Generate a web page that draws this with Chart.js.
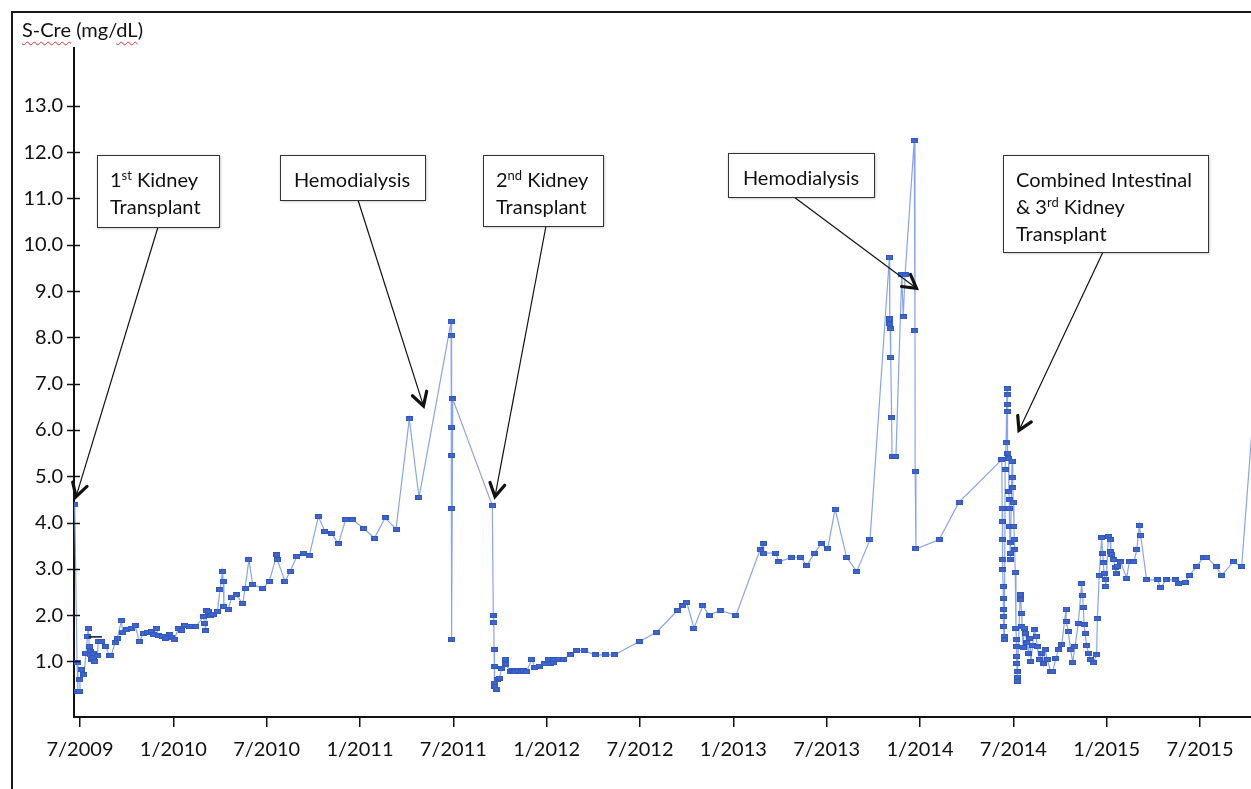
<!DOCTYPE html>
<html><head><meta charset="utf-8">
<script src="https://cdn.jsdelivr.net/npm/chart.js@4.4.0/dist/chart.umd.min.js"></script>
<style>
html,body{margin:0;padding:0;background:#fff;width:1251px;height:789px;overflow:hidden;}
#frame{position:absolute;left:11px;top:11px;width:1300px;height:800px;border-left:2px solid #1a1a1a;border-top:2px solid #1a1a1a;}
#ytitle{position:absolute;left:22px;top:17px;font:20px Lato, sans-serif;color:#111;white-space:nowrap;}
.sp{text-decoration:underline wavy #e0302a;text-decoration-thickness:1px;text-underline-offset:4px;}
canvas{position:absolute;left:0;top:0;}
</style></head><body>
<div id="frame"></div>
<canvas id="c" width="1251" height="789"></canvas>
<div id="ytitle"><span class="sp">S-Cre</span> (mg/<span class="sp">dL</span>)</div>
<script>
// ---- data (decimal year of sample, serum creatinine mg/dL) ----
const sampleYear = [
2009.472,2009.484,2009.489,2009.497,2009.500,2009.509,2009.521,2009.532,2009.540,2009.544,
2009.550,2009.554,2009.557,2009.563,2009.570,2009.572,2009.580,2009.593,2009.598,2009.616,
2009.639,2009.657,2009.666,2009.688,2009.700,2009.722,2009.729,2009.750,2009.777,2009.795,
2009.818,2009.839,2009.861,2009.884,2009.893,2009.911,2009.919,2009.941,2009.959,2009.982,
2009.991,2010.004,2010.027,2010.045,2010.062,2010.086,2010.121,2010.161,2010.168,2010.173,
2010.178,2010.187,2010.200,2010.214,2010.236,2010.250,2010.264,2010.267,2010.271,2010.294,
2010.313,2010.336,2010.372,2010.384,2010.405,2010.425,2010.479,2010.514,2010.554,2010.557,
2010.598,2010.625,2010.661,2010.696,2010.728,2010.777,2010.812,2010.848,2010.884,2010.923,
2010.961,2011.021,2011.077,2011.134,2011.193,2011.264,2011.316,2011.488,2011.489,2011.490,
2011.491,2011.491,2011.492,2011.497,2011.709,2011.714,2011.717,2011.718,2011.719,2011.720,
2011.723,2011.732,2011.734,2011.746,2011.759,2011.777,2011.782,2011.804,2011.818,2011.830,
2011.848,2011.866,2011.875,2011.893,2011.920,2011.937,2011.961,2011.986,2012.009,2012.018,
2012.036,2012.038,2012.062,2012.089,2012.125,2012.161,2012.200,2012.259,2012.316,2012.362,
2012.496,2012.589,2012.700,2012.729,2012.750,2012.789,2012.836,2012.871,2012.929,2013.014,
2013.143,2013.160,2013.162,2013.228,2013.243,2013.313,2013.361,2013.393,2013.434,2013.470,
2013.505,2013.545,2013.607,2013.661,2013.732,2013.836,2013.837,2013.839,2013.840,2013.843,
2013.848,2013.850,2013.871,2013.902,2013.910,2013.920,2013.969,2013.973,2013.974,2013.978,
2014.102,2014.209,2014.438,2014.440,2014.441,2014.442,2014.443,2014.444,2014.445,2014.446,
2014.447,2014.448,2014.449,2014.450,2014.452,2014.456,2014.461,2014.466,2014.467,2014.468,
2014.469,2014.471,2014.474,2014.476,2014.478,2014.479,2014.480,2014.482,2014.483,2014.484,
2014.493,2014.496,2014.498,2014.500,2014.503,2014.505,2014.507,2014.510,2014.514,2014.516,
2014.517,2014.518,2014.519,2014.520,2014.521,2014.522,2014.536,2014.539,2014.545,2014.546,
2014.552,2014.558,2014.564,2014.573,2014.580,2014.587,2014.594,2014.603,2014.611,2014.622,
2014.628,2014.639,2014.652,2014.660,2014.670,2014.682,2014.700,2014.711,2014.728,2014.741,
2014.759,2014.782,2014.783,2014.794,2014.807,2014.818,2014.830,2014.848,2014.866,2014.871,
2014.875,2014.879,2014.884,2014.893,2014.902,2014.914,2014.928,2014.946,2014.950,2014.960,
2014.973,2014.979,2014.982,2014.986,2014.991,2014.996,2015.009,2015.018,2015.022,2015.027,
2015.036,2015.045,2015.050,2015.057,2015.075,2015.107,2015.121,2015.146,2015.161,2015.175,
2015.182,2015.214,2015.271,2015.289,2015.318,2015.366,2015.384,2015.420,2015.443,2015.482,
2015.518,2015.536,2015.586,2015.616,2015.678,2015.723,2015.810
];
const sCre = [
4.38,0.97,0.35,0.36,0.60,0.82,0.71,1.18,1.54,1.72,
1.32,1.22,1.14,1.04,1.08,1.17,1.00,1.12,1.43,1.43,
1.32,1.12,1.12,1.40,1.50,1.88,1.63,1.68,1.72,1.78,
1.43,1.60,1.63,1.65,1.58,1.71,1.56,1.54,1.50,1.58,
1.52,1.47,1.71,1.67,1.78,1.76,1.76,1.96,1.83,1.66,
2.10,2.08,1.99,2.02,2.08,2.55,2.94,2.73,2.19,2.12,
2.39,2.44,2.25,2.57,3.20,2.66,2.58,2.73,3.30,3.20,
2.73,2.94,3.27,3.34,3.28,4.13,3.81,3.77,3.54,4.06,
4.06,3.87,3.66,4.10,3.86,6.24,4.54,8.34,8.03,6.06,
5.45,4.30,1.48,6.67,4.36,1.99,1.84,1.25,0.89,0.53,
0.46,0.40,0.60,0.64,0.84,1.05,0.94,0.78,0.80,0.78,
0.80,0.78,0.80,0.78,1.05,0.86,0.90,0.95,1.04,0.95,
0.97,1.04,1.05,1.05,1.14,1.24,1.24,1.14,1.14,1.14,
1.43,1.63,2.10,2.20,2.28,1.72,2.20,2.00,2.10,2.00,
3.41,3.54,3.34,3.34,3.15,3.25,3.25,3.07,3.34,3.54,
3.43,4.29,3.25,2.94,3.63,9.73,8.40,8.29,8.19,7.57,
6.26,5.43,5.43,9.35,8.44,9.35,12.25,8.14,5.10,3.43,
3.63,4.44,5.36,4.31,4.02,3.63,3.20,2.98,2.62,2.37,
2.12,1.97,1.76,1.54,1.47,5.14,5.72,6.90,6.76,6.55,
6.40,5.50,5.39,4.67,4.49,4.31,3.92,3.56,3.34,3.20,
5.32,4.97,4.75,4.43,3.92,3.63,3.41,2.92,1.72,1.47,
1.32,1.11,0.96,0.78,0.66,0.57,2.44,2.33,2.04,1.76,
1.30,1.72,1.61,1.40,1.18,1.50,1.00,1.35,1.68,1.54,
1.32,1.04,1.18,0.95,1.25,1.04,0.78,0.78,1.07,1.25,
1.36,2.13,1.86,1.65,1.25,0.98,1.32,1.83,2.68,2.42,
2.17,1.79,1.61,1.34,1.18,1.04,0.97,1.14,1.92,2.85,
3.67,3.34,3.13,2.91,2.76,2.62,3.70,3.63,3.38,3.31,
3.20,3.02,2.91,3.05,3.15,2.80,3.15,3.15,3.41,3.94,
3.72,2.76,2.76,2.59,2.76,2.76,2.68,2.71,2.86,3.05,
3.25,3.25,3.05,2.86,3.15,3.05,7.70
];
const xTickYears = [2009.5,2010,2010.5,2011,2011.5,2012,2012.5,2013,2013.5,2014,2014.5,2015,2015.5];
const yTickValues = [1,2,3,4,5,6,7,8,9,10,11,12,13];
// short black reference dash seen near the start (from year, to year, value)
const dashYears = [2009.547, 2009.617];
const dashValue = 1.53;
// annotations: text (lines, ^..^ = superscript) and where each arrow points (year, value)
const noteText = [
  ['1^st^ Kidney','Transplant'],
  ['Hemodialysis'],
  ['2^nd^ Kidney','Transplant'],
  ['Hemodialysis'],
  ['Combined Intestinal','& 3^rd^ Kidney','Transplant']
];
const noteTipYear  = [2009.479, 2011.340, 2011.723, 2013.981, 2014.530];
const noteTipValue = [4.56, 6.52, 4.56, 9.06, 5.99];

// ---- layout / style ----
const noteLayout = [
  {box:[97,155,122,72],  align:'left',   tx:110,  base:187, from:[158,227]},
  {box:[280,155,145,45], align:'center', tx:352,  base:187, from:[358,200]},
  {box:[483,155,120,71], align:'left',   tx:496,  base:187, from:[546,226]},
  {box:[728,153,146,44], align:'center', tx:801,  base:185, from:[794,197]},
  {box:[1003,155,205,97],align:'left',   tx:1016, base:187, from:[1103,252]}
];
const FONT = '20px Lato, sans-serif';
const SUPFONT = '13px Lato, sans-serif';

const marker = document.createElement('canvas');
marker.width = 7; marker.height = 5;
(function(){const g = marker.getContext('2d');
  g.fillStyle = '#3f66cc'; g.fillRect(0,0,7,5);
  g.strokeStyle = '#3358bd'; g.lineWidth = 1; g.strokeRect(0.5,0.5,6,4);})();

function richText(ctx, str, x, y, align){
  const parts = str.split('^');
  let w = 0;
  parts.forEach((p,i)=>{ctx.font = i%2 ? SUPFONT : FONT; w += ctx.measureText(p).width;});
  let cx = align === 'center' ? x - w/2 : x;
  ctx.textAlign = 'left';
  parts.forEach((p,i)=>{ctx.font = i%2 ? SUPFONT : FONT;
    ctx.fillText(p, cx, i%2 ? y - 7 : y); cx += ctx.measureText(p).width;});
}

const overlay = {
  id:'overlay',
  afterDraw(chart){
    const ctx = chart.ctx, xs = chart.scales.x, ys = chart.scales.y;
    const L = chart.chartArea.left;
    ctx.save();
    // y tick marks crossing the axis
    ctx.strokeStyle = '#111'; ctx.lineWidth = 1.5;
    yTickValues.forEach(v=>{
      const py = Math.round(ys.getPixelForValue(v)) + 0.5;
      ctx.beginPath(); ctx.moveTo(L-7, py); ctx.lineTo(L+6, py); ctx.stroke();
    });
    // small black dash
    ctx.lineWidth = 1.5;
    const dy = ys.getPixelForValue(dashValue);
    ctx.beginPath(); ctx.moveTo(xs.getPixelForValue(dashYears[0]), dy);
    ctx.lineTo(xs.getPixelForValue(dashYears[1]), dy); ctx.stroke();
    // annotation boxes + arrows
    noteText.forEach((lines,i)=>{
      const lay = noteLayout[i];
      const tipX = xs.getPixelForValue(noteTipYear[i]);
      const tipY = ys.getPixelForValue(noteTipValue[i]);
      const [fx,fy] = lay.from;
      ctx.strokeStyle = '#111'; ctx.lineWidth = 1.2;
      ctx.beginPath(); ctx.moveTo(fx,fy); ctx.lineTo(tipX,tipY); ctx.stroke();
      const a = Math.atan2(fy - tipY, fx - tipX);
      const len = 15, spread = Math.PI/6;
      ctx.lineWidth = 3.2; ctx.lineCap = 'round'; ctx.lineJoin = 'miter';
      ctx.beginPath();
      ctx.moveTo(tipX + len*Math.cos(a - spread), tipY + len*Math.sin(a - spread));
      ctx.lineTo(tipX, tipY);
      ctx.lineTo(tipX + len*Math.cos(a + spread), tipY + len*Math.sin(a + spread));
      ctx.stroke();
      ctx.lineCap = 'butt';
      const [bx,by,bw,bh] = lay.box;
      ctx.save();
      ctx.shadowColor = 'rgba(0,0,0,0.35)'; ctx.shadowBlur = 3; ctx.shadowOffsetX = 1; ctx.shadowOffsetY = 1;
      ctx.fillStyle = '#fff'; ctx.fillRect(bx,by,bw,bh);
      ctx.restore();
      ctx.strokeStyle = '#333'; ctx.lineWidth = 1;
      ctx.strokeRect(bx+0.5, by+0.5, bw, bh);
      ctx.fillStyle = '#111'; ctx.textBaseline = 'alphabetic';
      lines.forEach((t,k)=> richText(ctx, t, lay.tx, lay.base + k*27, lay.align));
    });
    ctx.restore();
  }
};

new Chart(document.getElementById('c'), {
  type:'line',
  data:{ datasets:[{
    data: sampleYear.map((yr,i)=>({x:yr, y:sCre[i]})),
    borderColor:'#88a4ea', borderWidth:1.2, tension:0,
    pointStyle: marker, pointRadius:3, pointHoverRadius:3,
    pointBackgroundColor:'#3f66cc', pointBorderColor:'#3f66cc',
    fill:false
  }]},
  options:{
    responsive:false, animation:false, devicePixelRatio:1,
    events:[],
    layout:{autoPadding:false, padding:{top:48,left:0,right:0,bottom:0}},
    plugins:{legend:{display:false}, tooltip:{enabled:false}},
    scales:{
      x:{
        type:'linear', min:2009.4679, max:2015.773,
        afterBuildTicks(s){ s.ticks = xTickYears.map(v=>({value:v})); },
        afterFit(s){ s.height = 72; s.paddingLeft = 0; s.paddingRight = 0; },
        ticks:{ autoSkip:false, maxRotation:0, padding:11, color:'#111',
          font:{family:'Lato', size:20},
          callback(v){ const y = Math.floor(v + 1e-6); return ((v - y) > 0.25 ? 7 : 1) + '/' + y; } },
        grid:{ display:true, drawOnChartArea:false, drawTicks:true, tickLength:10, color:'#111', lineWidth:1.5 },
        border:{ display:true, color:'#111', width:2 }
      },
      y:{
        type:'linear', min:-0.2, max:14.25,
        afterBuildTicks(s){ s.ticks = yTickValues.map(v=>({value:v})); },
        afterFit(s){ s.width = 74; s.paddingTop = 0; s.paddingBottom = 0; },
        ticks:{ padding:11, color:'#111', font:{family:'Lato', size:20},
          callback(v){ return Number(v).toFixed(1); } },
        grid:{ display:false, drawTicks:false, tickLength:0 },
        border:{ display:true, color:'#111', width:2 }
      }
    }
  },
  plugins:[overlay]
});
</script></body></html>
